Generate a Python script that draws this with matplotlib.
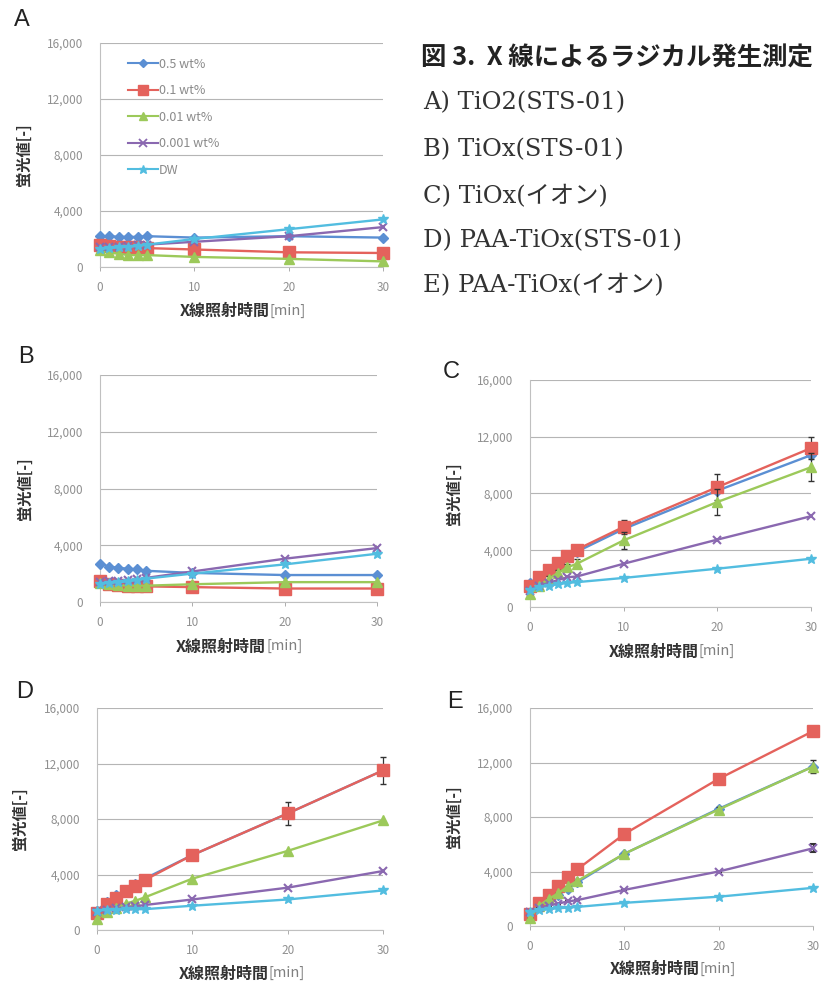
import matplotlib
matplotlib.use("Agg")
import matplotlib.pyplot as plt
from matplotlib.lines import Line2D

plt.rcParams['font.family'] = ['Noto Sans CJK JP', 'DejaVu Sans']

# ---------------- data ----------------
x_min = [0, 1, 2, 3, 4, 5, 10, 20, 30]
series_labels = ["0.5 wt%", "0.1 wt%", "0.01 wt%", "0.001 wt%", "DW"]
y_ticks = [0, 4000, 8000, 12000, 16000]
x_ticks = [0, 10, 20, 30]

# Panel A: TiO2(STS-01)
a_05 = [2200, 2200, 2150, 2150, 2150, 2200, 2100, 2200, 2100]
a_01 = [1550, 1500, 1450, 1400, 1400, 1350, 1250, 1050, 1000]
a_001 = [1200, 1050, 950, 850, 850, 850, 720, 580, 400]
a_0001 = [1400, 1400, 1450, 1500, 1550, 1600, 1800, 2200, 2850]
a_dw = [1300, 1350, 1400, 1450, 1500, 1600, 2000, 2700, 3400]

# Panel B: TiOx(STS-01)
b_05 = [2700, 2500, 2400, 2350, 2300, 2200, 2050, 1900, 1900]
b_01 = [1450, 1300, 1200, 1150, 1100, 1100, 1050, 950, 950]
b_001 = [1350, 1250, 1200, 1150, 1150, 1150, 1250, 1400, 1400]
b_0001 = [1400, 1450, 1500, 1550, 1600, 1700, 2150, 3050, 3800]
b_dw = [1300, 1350, 1400, 1450, 1550, 1650, 2000, 2650, 3400]

# Panel C: TiOx(ion)
c_05 = [1700, 2000, 2500, 3000, 3500, 3900, 5500, 8200, 10700]
c_01 = [1500, 2100, 2600, 3100, 3600, 4050, 5650, 8450, 11200]
c_001 = [900, 1500, 2000, 2400, 2800, 3050, 4700, 7400, 9850]
c_0001 = [1100, 1500, 1700, 1900, 2100, 2150, 3050, 4750, 6400]
c_dw = [1200, 1400, 1500, 1600, 1700, 1750, 2050, 2700, 3400]
c_err_01 = [0, 150, 200, 250, 300, 300, 500, 900, 800]
c_err_001 = [0, 100, 150, 200, 250, 300, 600, 900, 1000]

# Panel D: PAA-TiOx(STS-01)
d_05 = [1400, 2000, 2500, 2900, 3300, 3700, 5400, 8400, 11500]
d_01 = [1200, 1900, 2300, 2800, 3200, 3600, 5400, 8400, 11500]
d_001 = [800, 1300, 1600, 1900, 2100, 2350, 3700, 5700, 7900]
d_0001 = [1300, 1450, 1550, 1650, 1700, 1800, 2200, 3050, 4250]
d_dw = [1400, 1450, 1450, 1500, 1500, 1500, 1750, 2200, 2850]
d_err_01 = [0, 0, 0, 0, 0, 0, 150, 800, 1000]

# Panel E: PAA-TiOx(ion)
e_05 = [900, 1400, 1900, 2300, 2700, 3200, 5300, 8600, 11700]
e_01 = [900, 1700, 2300, 2900, 3600, 4150, 6750, 10800, 14300]
e_001 = [600, 1500, 2000, 2400, 2900, 3300, 5300, 8550, 11700]
e_0001 = [1000, 1300, 1500, 1650, 1800, 1900, 2650, 4000, 5700]
e_dw = [1000, 1150, 1250, 1300, 1350, 1400, 1700, 2150, 2800]
e_err_001 = [0, 0, 0, 0, 0, 0, 0, 200, 500]
e_err_0001 = [0, 0, 0, 0, 0, 0, 0, 0, 300]

caption_title = "図 3.  X 線によるラジカル発生測定"
caption_lines = ["A) TiO2(STS-01)", "B) TiOx(STS-01)", "C) TiOx(イオン)",
                 "D) PAA-TiOx(STS-01)", "E) PAA-TiOx(イオン)"]

# ---------------- styles ----------------
colors = ['#5b8fd3', '#e4625c', '#9cc95a', '#8a68b0', '#52bde0']
markers = ['D', 's', '^', 'x', '*']
msizes = [5, 8, 6.5, 6, 7.5]

W, H = 822, 982
fig = plt.figure(figsize=(W / 100, H / 100), dpi=100)


def add_ax(left, right, top, bottom):
    return fig.add_axes([left / W, 1 - bottom / H, (right - left) / W, (bottom - top) / H])


def style_ax(ax, letter, lx, ly):
    ax.set_xlim(0, 30)
    ax.set_ylim(0, 16000)
    ax.set_yticks(y_ticks)
    ax.set_yticklabels([f"{v:,}" for v in y_ticks])
    ax.set_xticks(x_ticks)
    ax.tick_params(axis='both', labelsize=8.5, colors='#a0a0a0', labelcolor='#909090',
                   length=3, width=0.6)
    ax.tick_params(axis='y', pad=12, length=0)
    ax.tick_params(axis='x', pad=7)
    ax.grid(axis='y', color='#b5b5b5', lw=0.8)
    ax.set_axisbelow(True)
    for s in ['top', 'right']:
        ax.spines[s].set_visible(False)
    for s in ['left', 'bottom']:
        ax.spines[s].set_color('#c0c0c0')
        ax.spines[s].set_linewidth(0.8)
    ax.text(-0.27, 0.5, "蛍光値[-]", transform=ax.transAxes, rotation=90,
            ha='center', va='center', fontsize=11, fontweight='bold', color='#333333')
    ax.text(0.60, -0.195, "X線照射時間", transform=ax.transAxes, ha='right',
            va='center', fontsize=11.5, fontweight='bold', color='#333333')
    ax.text(0.60, -0.195, "[min]", transform=ax.transAxes, ha='left',
            va='center', fontsize=10.5, color='#808080')
    fig.text(lx / W, 1 - ly / H, letter, fontsize=17, ha='left', va='center',
             color='#222222', family=['Liberation Sans', 'DejaVu Sans'])


def plot_series(ax, ys, errs=None):
    for i, y in enumerate(ys):
        e = errs[i] if errs and errs[i] is not None else None
        ax.errorbar(x_min, y, yerr=e, color=colors[i], marker=markers[i],
                    markersize=msizes[i], lw=1.7, mew=1.5 if markers[i] == 'x' else 1,
                    ecolor='#333333', elinewidth=0.9, capsize=2, clip_on=False,
                    label=series_labels[i], zorder=3 + i)


axA = add_ax(100, 383, 43, 267)
plot_series(axA, [a_05, a_01, a_001, a_0001, a_dw])
style_ax(axA, "A", 14, 20)
handles = [Line2D([0], [0], color=colors[i], marker=markers[i], markersize=msizes[i] * 0.85,
                  lw=1.5, mew=1.3 if markers[i] == 'x' else 1) for i in range(5)]
leg = axA.legend(handles, series_labels, loc='upper left', bbox_to_anchor=(0.06, 0.985),
                 frameon=False, fontsize=9, labelcolor='#8a8a8a', handlelength=2.4,
                 handletextpad=0.05, labelspacing=1.08)

axB = add_ax(100, 377, 375, 602)
plot_series(axB, [b_05, b_01, b_001, b_0001, b_dw])
style_ax(axB, "B", 18, 357)

axC = add_ax(530, 811, 380, 607)
plot_series(axC, [c_05, c_01, c_001, c_0001, c_dw], [None, c_err_01, c_err_001, None, None])
style_ax(axC, "C", 443, 372)

axD = add_ax(97, 383, 708, 930)
plot_series(axD, [d_05, d_01, d_001, d_0001, d_dw], [None, d_err_01, None, None, None])
style_ax(axD, "D", 16, 692)

axE = add_ax(530, 813, 708, 926)
plot_series(axE, [e_05, e_01, e_001, e_0001, e_dw], [None, None, e_err_001, e_err_0001, None])
style_ax(axE, "E", 447, 702)

# caption
fig.text(421 / W, 1 - 58 / H, caption_title, fontsize=18.3, fontweight='bold',
         ha='left', va='center', color='#222222')
cap_y = [103, 150, 197, 241, 286]
for t, yy in zip(caption_lines, cap_y):
    fig.text(423 / W, 1 - yy / H, t, fontsize=17.5, ha='left', va='center', color='#333333',
             family=['DejaVu Serif', 'Noto Sans CJK JP'])

fig.savefig("out.png", dpi=100)
